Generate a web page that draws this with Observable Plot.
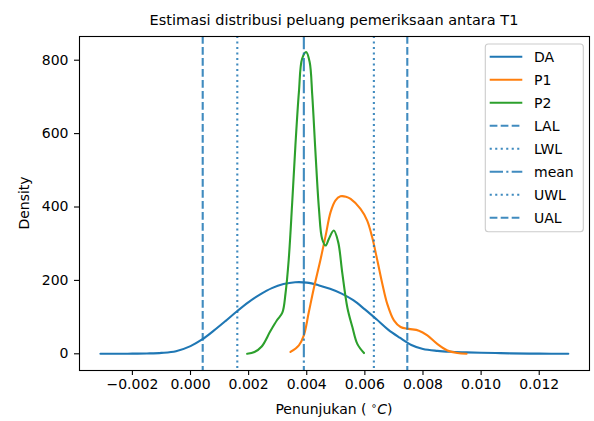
<!DOCTYPE html>
<html><head><meta charset="utf-8">
<script src="https://cdn.jsdelivr.net/npm/d3@7"></script>
<script src="https://cdn.jsdelivr.net/npm/@observablehq/plot@0.6"></script>
<style>
html,body{margin:0;padding:0;background:#fff;}
#chart svg{display:block;}
</style></head><body><div id="chart"></div>
<script>
// ---- text ----
const titleText = "Estimasi distribusi peluang pemeriksaan antara T1";
const yLabelText = "Density";
const xLabelMain = "Penunjukan (";
const xLabelSup = "∘";
const xLabelUnit = "C";
const xLabelEnd = ")";
// ---- ticks ----
const xTicks = [-0.002, 0.000, 0.002, 0.004, 0.006, 0.008, 0.010, 0.012];
const yTicks = [0, 200, 400, 600, 800];
// ---- series: DA ----
const daX = [-0.0031, -0.0025, -0.0020, -0.0015, -0.0010, -0.0005, 0.0000, 0.0004, 0.0008, 0.0012, 0.0016, 0.0020, 0.0024, 0.0028, 0.0032, 0.0036, 0.0040, 0.0044, 0.0048, 0.0052, 0.0056, 0.0060, 0.0064, 0.0068, 0.0072, 0.0076, 0.0080, 0.0085, 0.0090, 0.0095, 0.0100, 0.0105, 0.0110, 0.0120, 0.0130];
const daY = [0.1, 0.2, 0.4, 1, 2.5, 7, 21, 39, 63, 89, 116, 141, 162, 179, 190, 195, 194, 187, 177, 164, 146, 121, 94, 66, 44, 24, 13, 8, 5.5, 4, 3, 2, 1.2, 0.4, 0.1];
// ---- series: P1 ----
const p1X = [0.00344, 0.00373, 0.0039, 0.00407, 0.00424, 0.00448, 0.00465, 0.00482, 0.00499, 0.00516, 0.00535, 0.00551, 0.00585, 0.00608, 0.00625, 0.00643, 0.0066, 0.00677, 0.0070, 0.00723, 0.00751, 0.00786, 0.00815, 0.00849, 0.00884, 0.00918, 0.0095];
const p1Y = [5, 23, 50, 113, 177, 259, 322, 386, 418, 429, 428, 422, 395, 363, 318, 254, 191, 136, 91, 73, 68, 63, 50, 27, 9, 2, 0];
// ---- series: P2 ----
const p2X = [0.00195, 0.0022, 0.00245, 0.00275, 0.00298, 0.00316, 0.00327, 0.00338, 0.0035, 0.00361, 0.00373, 0.00384, 0.00398, 0.0041, 0.00419, 0.0043, 0.00442, 0.00453, 0.00465, 0.00476, 0.00493, 0.00508, 0.00522, 0.0054, 0.00557, 0.00574, 0.00597];
const p2Y = [0, 5, 20, 62, 92, 112, 165, 257, 413, 568, 713, 804, 822, 795, 704, 549, 395, 313, 295, 313, 336, 305, 222, 125, 73, 27, 2];
// ---- control limits ----
const limitNames = ["LAL", "LWL", "mean", "UWL", "UAL"];
const limitValues = [0.00042, 0.00161, 0.0039, 0.00631, 0.00746];
const seriesNames = ["DA", "P1", "P2"];

// ---- styles (kept separate from data) ----
const seriesColors = ["#1f77b4", "#ff7f0e", "#2ca02c"];
const limitColor = "#1f77b4";
const limitDash = {LAL: "7.7,3.3", LWL: "2.1,3.4", mean: "13.3,3.3,2.1,3.3", UWL: "2.1,3.4", UAL: "7.7,3.3"};
const FONT = '"DejaVu Sans", sans-serif';
const W = 594, H = 421, mL = 79, mR = 5, mT = 36, mB = 51;

const rows = (xs, ys) => xs.map((x, i) => ({x, y: ys[i]}));
const seriesData = [rows(daX, daY), rows(p1X, p1Y), rows(p2X, p2Y)];
const limits = limitNames.map((name, i) => ({name, v: limitValues[i]}));

const svg = Plot.plot({
  width: W, height: H,
  marginLeft: mL, marginRight: mR, marginTop: mT, marginBottom: mB,
  style: {fontFamily: FONT, fontSize: "14px", color: "#000", background: "#fff", overflow: "visible"},
  x: {domain: [-0.00382, 0.01373], label: null},
  y: {domain: [-45.5, 864.6], label: null},
  marks: [
    ...seriesData.map((d, i) => Plot.line(d, {x: "x", y: "y", stroke: seriesColors[i], strokeWidth: 2.1, curve: "catmull-rom"})),
    ...limits.map(l => Plot.ruleX([l], {x: "v", stroke: limitColor, strokeWidth: 2.1, strokeOpacity: 0.85, strokeDasharray: limitDash[l.name], strokeLinecap: "butt"})),
    Plot.axisX({ticks: xTicks, tickFormat: d3.format(".3f"), tickSize: 5, tickPadding: 4, strokeWidth: 1.1, fontSize: 14, label: null}),
    Plot.axisY({ticks: yTicks, tickSize: 5, tickPadding: 6, strokeWidth: 1.1, fontSize: 14, label: null}),
    Plot.frame({stroke: "#000", strokeWidth: 1.1})
  ]
});

const s = d3.select(svg);
// title
s.append("text").attr("x", (mL + W - mR) / 2).attr("y", 25).attr("text-anchor", "middle")
  .attr("font-family", FONT).attr("font-size", 14.5).attr("fill", "#000").text(titleText);
// y label
s.append("text").attr("transform", `translate(29,${(mT + H - mB) / 2}) rotate(-90)`).attr("text-anchor", "middle")
  .attr("font-family", FONT).attr("font-size", 14).attr("fill", "#000").text(yLabelText);
// x label
const xl = s.append("text").attr("x", (mL + W - mR) / 2).attr("y", 414).attr("text-anchor", "middle")
  .attr("font-family", FONT).attr("font-size", 14).attr("fill", "#000");
xl.append("tspan").text(xLabelMain + "\u00a0");
xl.append("tspan").attr("font-size", 10).attr("dy", -5).text(xLabelSup);
xl.append("tspan").attr("dy", 5).attr("font-style", "italic").text(xLabelUnit);
xl.append("tspan").text(xLabelEnd);

// legend
const legendItems = [
  ...seriesNames.map((n, i) => ({name: n, color: seriesColors[i], dash: null})),
  ...limitNames.map(n => ({name: n, color: limitColor, dash: limitDash[n]}))
];
const lg = s.append("g");
lg.append("rect").attr("x", 485.3).attr("y", 44).attr("width", 98).attr("height", 187.7).attr("rx", 3)
  .attr("fill", "#fff").attr("fill-opacity", 0.8).attr("stroke", "#cccccc").attr("stroke-width", 1.1);
legendItems.forEach((it, i) => {
  const y = 56.7 + 23 * i;
  const ln = lg.append("line").attr("x1", 489.7).attr("x2", 522.3).attr("y1", y).attr("y2", y)
    .attr("stroke", it.color).attr("stroke-width", 2.1);
  if (it.dash) ln.attr("stroke-dasharray", it.dash).attr("stroke-opacity", 0.85);
  lg.append("text").attr("x", 534).attr("y", y).attr("dy", "0.36em").attr("text-anchor", "start")
    .attr("font-family", FONT).attr("font-size", 14).attr("fill", "#000").text(it.name);
});

document.getElementById("chart").appendChild(svg);
</script>
</body></html>
